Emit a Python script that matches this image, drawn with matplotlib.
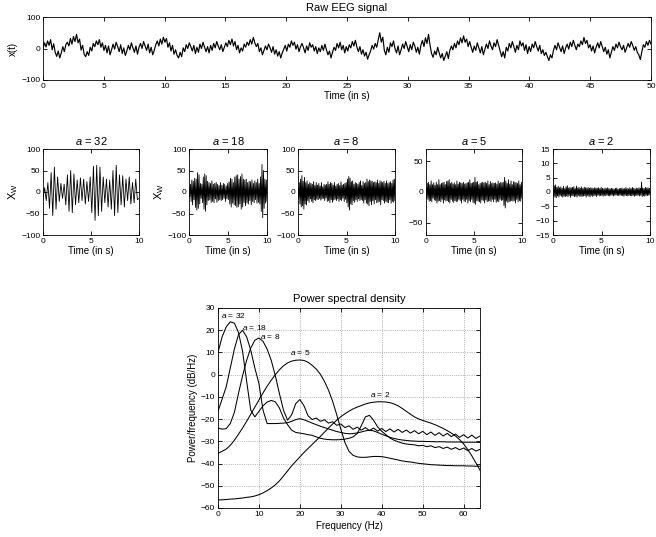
import numpy as np
import matplotlib
matplotlib.use("Agg")
import matplotlib.pyplot as plt

plt.rcParams['font.family'] = ['Liberation Sans', 'DejaVu Sans']
plt.rcParams['mathtext.fontset'] = 'custom'
plt.rcParams['mathtext.rm'] = 'Liberation Sans'
plt.rcParams['mathtext.it'] = 'Liberation Sans:italic'

# raw EEG, one value every 0.125 s
raw_eeg = [
    0, 18, 5, 24, 10, 28, -4, 15, -12, -25, -8, -30, -14, 6, -10, 12, 20, 8, 32, 14,
    38, 22, 45, 18, 30, -5, 10, -18, -26, -10, -22, 4, -8, 16, 6, 24, 12, 28, 4, 18,
    -6, 10, -14, 8, -20, -4, 14, -2, 20, 6, -10, 12, -16, 2, -22, -8, 10, -4, 18, 2,
    -12, 8, -18, 4, 16, 0, 22, 8, -6, 14, -14, 4, -20, -6, 12, 24, 8, 30, 14, 36,
    20, 32, 4, 18, -8, 10, -18, -4, -22, -30, -12, -26, 2, -10, 12, 0, 18, 6, -8, 10,
    -16, 4, -12, 14, 0, 20, 4, -10, 6, -14, 10, -6, 16, 2, 22, 8, -4, 12, -10, 4,
    18, 6, 26, 12, 30, 8, 22, -4, 10, -14, 2, -8, 14, 4, 20, 10, 28, 14, 35, 18,
    6, 16, -10, 2, -20, -6, 8, -4, 14, 2, -12, 6, -18, -4, -24, -10, -30, -14, -2, 10,
    -8, 14, 4, 24, 10, 20, -2, 12, -10, 6, 16, 2, -14, 8, -6, 18, 4, 12, -8, 6,
    -16, 2, -10, 10, -6, 14, -4, -20, -8, -30, -12, 4, -6, 16, 2, 20, -4, 10, -14, 6,
    -8, 12, 2, 22, 8, 26, 4, -10, 6, -18, -4, -24, -12, -34, -20, -8, 10, -2, 16, 4,
    28, 50, 20, 36, -6, -20, 4, -12, 18, 6, 24, 0, -14, 8, -20, -4, 14, 0, 22, 6,
    -10, 12, -4, 20, 8, -12, 4, -18, 10, 26, 6, 34, 16, 45, 10, -16, -28, -8, -20, 4,
    -14, -30, -16, -38, -24, -10, -32, -6, 8, -4, 16, 2, 24, 12, 34, 18, 40, 20, 30, 6,
    22, 4, -12, 8, -6, 18, 2, -14, 6, -20, -2, 14, 0, 24, 8, -4, 18, 6, 28, 10,
    -8, -26, -10, -30, 4, -8, 16, 2, 22, 6, -12, 10, -4, 24, 8, 18, -6, 12, -16, 6,
    -10, 14, 2, 22, 6, -8, 10, -16, -4, -22, -12, -26, -38, -20, -30, -6, 10, -4, 18, 4,
    -10, 8, -16, 2, 14, -2, 20, 6, 26, 10, -4, 14, 6, 24, 12, 35, 16, 26, 2, 12,
    -8, 8, -14, 4, 18, 2, 22, 6, -10, 4, -18, -4, -30, -12, 6, -6, 14, 2, 20, 6,
    -4, 10, -12, 2, 16, 4, 22, 10, -6, 6, -12, -20, -35, -10, 12, 4, 22, 10, 26, 14,
]

# wavelet coefficients over the first 10 s, one list per scale
xw_32 = [
    -15, 10, -20, 22, -38, 45, -55, 58, -40, 35, -22, 20, -15, 18, -30, 40, -45, 50, -48, 42,
    -30, 28, -25, 33, -20, 30, -28, 24, -22, 35, -48, 60, -66, 62, -55, 58, -45, 35, -25, 30,
    -35, 28, -40, 50, -55, 62, -48, 40, -30, 38, -35, 30, -20, 35, -28, 22, -25, 30, -18, -15,
]
xw_18 = [
    8, -12, 18, -22, 28, -30, 25, -18, 32, -36, 30,
    -42, 45, -38, 40, -28, 20, -15, 18, -25, 35, -40,
    42, -45, 38, -30, 25, -20, 22, -18, 20, -24, 26,
    -22, 18, -25, 20, -16, 22, -24, 18, -20, 15, -18,
    22, -20, 16, -18, 20, -15, 18, -22, 14, -16, 20,
    -18, 24, -28, 32, -35, 30, -26, 22, -30, 35, -32,
    38, -36, 40, -34, 30, -28, 36, -40, 42, -35, 30,
    -25, 28, -32, 30, -26, 22, -28, 25, -20, 24, -30,
    28, -22, 20, -25, 26, -18, 22, -26, 30, -24, 20,
    -28, 35, -45, 64, -60, 50, -38, 30, -26, 28, -22,
]
xw_8 = [
    10, -15, 22, -28, 30, -35, 38, -32, 25, -40, 34, -28, 22, -30, 26,
    -20, 18, -24, 22, -16, 20, -22, 18, -25, 24, -18, 15, -20, 22, -17,
    16, -18, 20, -15, 14, -19, 22, -16, 12, -15, 18, -20, 16, -14, 18,
    -22, 24, -20, 18, -25, 22, -18, 20, -24, 16, -19, 22, -17, 14, -20,
    18, -16, 20, -22, 15, -18, 24, -20, 16, -14, 18, -22, 20, -17, 22,
    -25, 30, -35, 36, -42, 32, -28, 24, -30, 26, -20, 18, -24, 22, -18,
    20, -22, 18, -16, 22, -20, 26, -18, 15, -20, 24, -26, 20, -18, 22,
    -26, 30, -28, 24, -32, 28, -22, 26, -30, 25, -20, 22, -28, 24, -18,
    22, -25, 28, -24, 20, -22, 26, -30, 24, -18, 22, -20, 25, -26, 20,
    -22, 26, -24, 20, -25, 22, -18, 24, -26, 20, -22, 28, -24, 30, -20,
]
xw_5 = [
    5, -10, 14, -12, 16, -15, 12, -14, 18, -16, 12, -10, 15, -13, 11,
    -14, 16, -18, 12, -15, 20, -14, 12, -16, 14, -12, 15, -18, 16, -13,
    12, -15, 17, -14, 18, -16, 20, -18, 14, -12, 16, -15, 13, -17, 15,
    -14, 12, -16, 18, -15, 13, -12, 16, -14, 15, -18, 14, -12, 16, -15,
    13, -16, 14, -12, 15, -18, 16, -14, 20, -16, 14, -12, 15, -17, 16,
    -18, 24, -20, 16, -14, 17, -15, 12, -16, 14, -18, 15, -13, 16, -14,
    15, -18, 16, -13, 14, -16, 18, -15, 12, -14, 17, -16, 14, -12, 15,
    -16, 14, -12, 15, -17, 13, -15, 18, -16, 14, -12, 16, -14, 15, -13,
    16, -22, 24, -26, 18, -15, 14, -17, 20, -16, 13, -15, 18, -14, 12,
    -15, 17, -14, 16, -18, 15, -12, 14, -16, 18, -14, 12, -15, 16, -10,
]
xw_2 = [
    0.5, -1.5, 2.2, -1.8, 2.5, -2.0, 1.6, -1.4, 2.0, -1.8, 1.5, -1.2, 1.8, -1.5, 1.3,
    -1.8, 2.0, -1.5, 1.2, -1.6, 1.8, -1.4, 2.2, -1.7, 1.4, -1.2, 1.6, -1.9, 1.5, -1.3,
    1.6, -1.4, 1.9, -1.6, 1.2, -1.5, 2.1, -1.8, 1.4, -1.2, 1.7, -1.5, 1.3, -1.6, 1.8,
    -1.5, 1.2, -1.4, 1.7, -1.3, 1.5, -1.8, 1.4, -1.2, 1.6, -1.5, 1.3, -1.7, 1.5, -1.2,
    1.4, -1.6, 1.2, -1.3, 1.5, -1.2, 1.4, -1.6, 1.3, -1.1, 1.5, -1.4, 1.2, -1.3, 1.6,
    -1.2, 1.3, -1.5, 1.1, -1.2, 1.4, -1.3, 1.2, -1.1, 1.5, -1.3, 1.2, -1.4, 1.1, -1.2,
    1.3, -1.1, 1.2, -1.4, 1.0, -1.2, 1.3, -1.1, 1.4, -1.2, 1.0, -1.3, 1.2, -1.1, 1.3,
    -1.2, 1.4, -1.3, 1.1, -1.5, 1.2, -1.1, 1.6, -1.3, 1.2, -1.4, 1.1, -1.2, 1.5, -1.3,
    1.2, -1.4, 1.6, -1.2, 1.3, -1.5, 1.1, -1.2, 1.4, -1.3, 1.2, -1.1, 1.5, -1.4, 1.3,
    -1.2, 3.5, -1.6, 1.4, -1.3, 1.2, -1.5, 1.6, -1.2, 1.4, -1.3, 1.5, -1.1, 1.3, -1.0,
]

scales = [32, 18, 8, 5, 2]
xw_limits = [100, 100, 100, 70, 15]

# power spectral density (dB/Hz), one value per Hz from 0 to 64
psd_32 = [
    10, 17, 21.5, 23.8, 23.2, 19, 10.5, -3, -16, -19, -16.5, -14, -12.3, -11.6, -12.2, -15,
    -19.5, -22.5, -25, -26, -26.3, -26.6, -27, -27.3, -28, -28.6, -29, -29.2, -29.3, -29.3,
    -29.2, -29, -28.6, -28, -26.5, -23, -19, -18.3, -20.5, -23.5, -25.5, -27, -28.5, -29.5,
    -30.2, -30.8, -31.2, -31.4, -31.6, -32, -31.8, -32.4, -32, -32.8, -32.4, -33.2, -32.6,
    -33.6, -32.8, -33.8, -33, -34.2, -33.2, -34.4, -33.6,
]
psd_18 = [
    -16.5, -11, -5.5, 3, 11.5, 18, 20, 17, 11, 3, -4, -16, -22, -22, -22, -21.9, -21.8,
    -21.6, -21, -20.2, -19.8, -20.3, -21, -21.8, -22.5, -23.2, -23.8, -24.4, -25, -25.6,
    -26, -26.4, -26.6, -26.5, -26.2, -25.8, -25.3, -25, -25.3, -26, -26.8, -27.5, -28.2,
    -28.7, -29.1, -29.4, -29.6, -29.8, -29.9, -30, -30, -30.1, -30.1, -30.2, -30.2, -30.2,
    -30.3, -30.3, -30.3, -30.3, -30.4, -30.4, -30.4, -30.4, -30.5,
]
psd_8 = [
    -24, -24.5, -24.3, -22, -17, -8.5, -0.5, 6.5, 12, 15.5, 16.5, 15, 11.5, 6.5, -0.5,
    -8.5, -16, -20.5, -18, -13, -11.2, -14, -18.5, -20.2, -19.5, -21, -20.3, -21.8, -21.2,
    -22.8, -22.2, -23.8, -23, -24.6, -23.6, -25, -23.8, -25.2, -24, -25.4, -24.2, -25.6,
    -24.4, -25.8, -24.6, -26, -24.9, -26.3, -25.2, -26.6, -25.5, -27, -25.8, -27.3, -26.1,
    -27.6, -26.4, -27.9, -26.7, -28.2, -27, -28.5, -27.2, -28.7, -27.6,
]
psd_5 = [
    -35.4, -34.5, -33.5, -31.8, -29.5, -26.8, -24, -21, -17.8, -14.6, -11.4, -8.2, -5.2,
    -2.5, 0, 2.2, 4, 5.3, 6.1, 6.5, 6.6, 6.4, 5.6, 4.2, 2.5, 0.2, -3, -7, -12, -18, -24.5,
    -30.5, -34.5, -36.3, -37, -37.2, -37.2, -37, -36.8, -36.8, -36.9, -37.2, -37.6, -38,
    -38.4, -38.8, -39.1, -39.3, -39.6, -39.9, -40.1, -40.3, -40.5, -40.6, -40.7, -40.8,
    -40.9, -40.9, -41, -41, -41, -41.1, -41.1, -41.2, -41.2,
]
psd_2 = [
    -56.4, -56.3, -56.2, -56, -55.9, -55.7, -55.5, -55.2, -55, -54.6, -54, -53.2, -52.2,
    -51, -49.6, -47.8, -45.6, -43.3, -41, -39, -37, -35, -33.2, -31.4, -29.6, -27.8,
    -25.9, -24, -22.2, -20.5, -18.9, -17.6, -16.4, -15.4, -14.6, -13.9, -13.2, -12.7,
    -12.4, -12.2, -12.2, -12.3, -12.6, -13.2, -14, -15.2, -16.5, -17.8, -19, -19.9, -20.6,
    -21.2, -21.8, -22.5, -23.3, -24.2, -25.2, -26.3, -27.6, -29.2, -31.2, -33.7, -36.5,
    -39.7, -43,
]
psd_labels = ['$a$ = 32', '$a$ = 18', '$a$ = 8', '$a$ = 5', '$a$ = 2']
label_freqs = [3.8, 8.9, 12.8, 20.1, 39.6]
label_dbs = [26.7, 21.3, 17, 9.9, -9]


def matlab_axes(ax):
    ax.tick_params(direction='in', top=True, right=True, length=3, width=0.6,
                   labelsize=6, pad=2)
    for s in ax.spines.values():
        s.set_linewidth(0.6)


fig = plt.figure(figsize=(6.56, 5.37), dpi=100)
W, H = 656, 537


def box(left, top, right, bottom):
    # pixel box -> figure fraction
    return [left / W, 1 - bottom / H, (right - left) / W, (bottom - top) / H]


# raw signal
ax = fig.add_axes(box(43, 17, 651, 80))
t_raw = np.linspace(0, 50, len(raw_eeg))
ax.plot(t_raw, raw_eeg, color='black', lw=0.85)
ax.set_xlim(0, 50)
ax.set_ylim(-100, 100)
ax.set_xticks(range(0, 51, 5))
ax.set_yticks([-100, 0, 100])
ax.set_title('Raw EEG signal', fontsize=8, pad=4)
ax.set_xlabel('Time (in s)', fontsize=7, labelpad=1)
ax.set_ylabel('x(t)', fontsize=7, labelpad=2)
matlab_axes(ax)

# wavelet coefficients at five scales
coefs = [xw_32, xw_18, xw_8, xw_5, xw_2]
boxes = [(43, 139), (189, 267), (298, 395), (426, 522), (553, 650)]
for i, (vals, (l, r)) in enumerate(zip(coefs, boxes)):
    ax = fig.add_axes(box(l, 149, r, 235))
    t = np.linspace(0, 10, len(vals))
    ax.plot(t, vals, color='black', lw=0.6)
    ax.set_xlim(0, 10)
    lim = xw_limits[i]
    ax.set_ylim(-lim, lim)
    ax.set_xticks([0, 5, 10])
    if lim == 100:
        ax.set_yticks([-100, -50, 0, 50, 100])
    elif lim == 70:
        ax.set_yticks([-50, 0, 50])
    else:
        ax.set_yticks(range(-15, 16, 5))
    ax.set_title('$a$ = %d' % scales[i], fontsize=8, pad=3)
    ax.set_xlabel('Time (in s)', fontsize=7, labelpad=1)
    if i < 2:
        ax.set_ylabel('X$_\\mathrm{W}$', fontsize=8, labelpad=1)
    matlab_axes(ax)

# power spectral density
ax = fig.add_axes(box(218, 308, 480, 508))
freqs = np.arange(len(psd_2))
for curve in [psd_32, psd_18, psd_8, psd_5, psd_2]:
    ax.plot(freqs, curve, color='black', lw=0.75)
for lab, f, db in zip(psd_labels, label_freqs, label_dbs):
    ax.text(f, db, lab, fontsize=6, ha='center', va='center')
ax.set_xlim(0, 64)
ax.set_ylim(-60, 30)
ax.set_xticks(range(0, 61, 10))
ax.set_yticks(range(-60, 31, 10))
ax.grid(True, linestyle=':', color='black', lw=0.5, alpha=0.5)
ax.set_title('Power spectral density', fontsize=8, pad=4)
ax.set_xlabel('Frequency (Hz)', fontsize=7, labelpad=2)
ax.set_ylabel('Power/frequency (dB/Hz)', fontsize=7, labelpad=2)
matlab_axes(ax)

fig.savefig('out.png', dpi=100)
